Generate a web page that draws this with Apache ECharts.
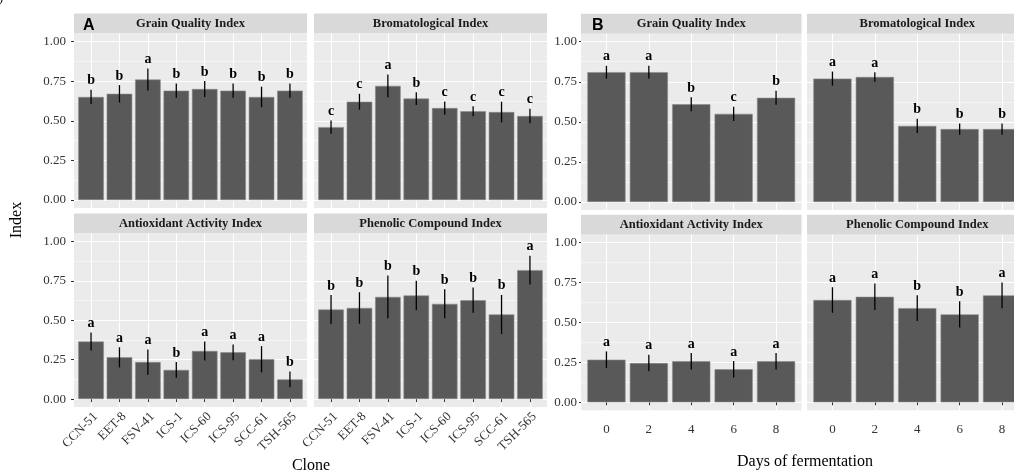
<!DOCTYPE html>
<html><head><meta charset="utf-8">
<script src="https://cdn.jsdelivr.net/npm/echarts@6/dist/echarts.min.js"></script>
<style>html,body{margin:0;padding:0;background:#fff}#c{width:1014px;height:471px}</style>
</head><body><div id="c"></div>
<script>
// ---------- data ----------
const clones = ['CCN-51','EET-8','FSV-41','ICS-1','ICS-60','ICS-95','SCC-61','TSH-565'];
const days = ['0','2','4','6','8'];
const yTicks = [0, 0.25, 0.5, 0.75, 1];
const yMinor = [0.125, 0.375, 0.625, 0.875];

const aGrainMean = [0.65, 0.67, 0.76, 0.69, 0.70, 0.69, 0.65, 0.69];
const aGrainErr  = [0.045, 0.055, 0.07, 0.045, 0.05, 0.045, 0.065, 0.045];
const aGrainLet  = ['b','b','a','b','b','b','b','b'];

const aBromMean = [0.46, 0.62, 0.72, 0.64, 0.58, 0.56, 0.555, 0.53];
const aBromErr  = [0.042, 0.05, 0.072, 0.04, 0.042, 0.032, 0.065, 0.045];
const aBromLet  = ['c','c','a','b','c','c','c','c'];

const aAntiMean = [0.365, 0.265, 0.235, 0.185, 0.305, 0.297, 0.253, 0.125];
const aAntiErr  = [0.057, 0.064, 0.08, 0.05, 0.06, 0.05, 0.083, 0.05];
const aAntiLet  = ['a','a','a','b','a','a','a','b'];

const aPhenMean = [0.568, 0.578, 0.648, 0.657, 0.604, 0.627, 0.537, 0.818];
const aPhenErr  = [0.092, 0.1, 0.135, 0.093, 0.092, 0.08, 0.124, 0.091];
const aPhenLet  = ['b','b','b','b','b','b','b','a'];

const bGrainMean = [0.81, 0.81, 0.61, 0.55, 0.65];
const bGrainErr  = [0.04, 0.04, 0.044, 0.044, 0.044];
const bGrainLet  = ['a','a','b','c','b'];

const bBromMean = [0.77, 0.78, 0.475, 0.455, 0.455];
const bBromErr  = [0.044, 0.03, 0.044, 0.035, 0.035];
const bBromLet  = ['a','a','b','b','b'];

const bAntiMean = [0.267, 0.246, 0.257, 0.207, 0.257];
const bAntiErr  = [0.052, 0.052, 0.052, 0.052, 0.052];
const bAntiLet  = ['a','a','a','a','a'];

const bPhenMean = [0.641, 0.661, 0.59, 0.551, 0.67];
const bPhenErr  = [0.08, 0.083, 0.08, 0.082, 0.081];
const bPhenLet  = ['a','a','b','b','a'];

// ---------- layout ----------
const SERIF = '"Liberation Serif","DejaVu Serif",serif';
const panels = [
  {title:'Grain Quality Index',        cats:clones, mean:aGrainMean, err:aGrainErr, let:aGrainLet, box:[74, 33.5, 233, 174.5], yLab:true,  xLab:false, yMargin:8},
  {title:'Bromatological Index',       cats:clones, mean:aBromMean,  err:aBromErr,  let:aBromLet,  box:[314, 33.5, 233, 174.5], yLab:false, xLab:false},
  {title:'Antioxidant Activity Index', cats:clones, mean:aAntiMean,  err:aAntiErr,  let:aAntiLet,  box:[74, 233.5, 233, 173.5], yLab:true,  xLab:true, rot:45, yMargin:8},
  {title:'Phenolic Compound Index',    cats:clones, mean:aPhenMean,  err:aPhenErr,  let:aPhenLet,  box:[314, 233.5, 233, 173.5], yLab:false, xLab:true, rot:45},
  {title:'Grain Quality Index',        cats:days,   mean:bGrainMean, err:bGrainErr, let:bGrainLet, box:[581, 33.7, 220.5, 176.3], yLab:true,  xLab:false, yMargin:4, tickLen:2},
  {title:'Bromatological Index',       cats:days,   mean:bBromMean,  err:bBromErr,  let:bBromLet,  box:[807, 33.7, 220.5, 176.3], yLab:false, xLab:false},
  {title:'Antioxidant Activity Index', cats:days,   mean:bAntiMean,  err:bAntiErr,  let:bAntiLet,  box:[581, 234.7, 220.5, 175.6], yLab:true,  xLab:true, rot:0, yMargin:4, tickLen:2},
  {title:'Phenolic Compound Index',    cats:days,   mean:bPhenMean,  err:bPhenErr,  let:bPhenLet,  box:[807, 234.7, 220.5, 175.6], yLab:false, xLab:true, rot:0}
];

const grid = [], xAxis = [], yAxis = [], series = [], graphic = [];
panels.forEach((p, i) => {
  const n = p.cats.length;
  const ticksX = p.cats.map((c, k) => k + 1);
  grid.push({left:p.box[0], top:p.box[1], width:p.box[2], height:p.box[3], show:true, backgroundColor:'#ebebeb',
    borderWidth:0, containLabel:false, outerBoundsMode:'none'});
  const xl = {show:p.xLab, customValues:ticksX, rotate:p.rot || 0, margin:p.rot ? 3 : 13,
      fontFamily:SERIF, fontSize:13, color:'#333',
      formatter: v => p.cats[Math.round(v) - 1]};
  if (p.rot) { xl.verticalAlign = 'top'; xl.align = 'right'; }
  xAxis.push({
    type:'value', gridIndex:i, min:0.4, max:n + 0.6,
    axisLine:{show:false},
    axisTick:{show:p.xLab, customValues:ticksX, length:3, lineStyle:{color:'#333', width:1}},
    axisLabel:xl,
    splitLine:{show:true, lineStyle:{color:'#ffffff', width:1}}
  });
  yAxis.push({
    type:'value', gridIndex:i, min:-0.05, max:1.05,
    axisLine:{show:false},
    axisTick:{show:p.yLab, customValues:yTicks, length:p.tickLen || 3, lineStyle:{color:'#333', width:1}},
    axisLabel:{show:p.yLab, customValues:yTicks, margin:p.yMargin || 8, fontFamily:SERIF, fontSize:13, color:'#333',
      formatter: v => v.toFixed(2)},
    splitLine:{show:true, lineStyle:{color:'#ffffff', width:1}}
  });
  yAxis.push({
    type:'value', gridIndex:i, min:-0.05, max:1.05, position:'left',
    axisLine:{show:false}, axisLabel:{show:false},
    axisTick:{show:false, customValues:yMinor},
    splitLine:{show:true, lineStyle:{color:'#ffffff', width:0.5}}
  });
  series.push({
    type:'bar', xAxisIndex:i, yAxisIndex:2*i, barWidth:'90%',
    itemStyle:{color:'#595959', borderColor:'#8c8c8c', borderWidth:0.6},
    data:p.mean.map((m, k) => [k + 1, m]), z:2
  });
  const lets = p.let;
  series.push({
    type:'custom', xAxisIndex:i, yAxisIndex:2*i, z:5,
    encode:{x:0, y:[1, 2]},
    data:p.mean.map((m, k) => [k + 1, m - p.err[k], m + p.err[k]]),
    renderItem:(params, api) => {
      const x = api.value(0);
      const a = api.coord([x, api.value(1)]);
      const b = api.coord([x, api.value(2)]);
      return {type:'group', children:[
        {type:'line', shape:{x1:a[0], y1:a[1], x2:b[0], y2:b[1]}, style:{stroke:'#000', lineWidth:1.3}},
        {type:'text', x:b[0], y:b[1] - 2, style:{text:lets[params.dataIndex], fill:'#000',
          fontFamily:SERIF, fontWeight:'bold', fontSize:14, align:'center', verticalAlign:'bottom'}}
      ]};
    }
  });
  // facet strip
  const sh = 20;
  graphic.push({type:'rect', left:p.box[0], top:p.box[1] - sh, shape:{width:p.box[2], height:sh}, style:{fill:'#d9d9d9'}, z:-1});
  graphic.push({type:'text', x:p.box[0] + p.box[2] / 2, y:p.box[1] - sh / 2,
    style:{text:p.title, fill:'#1a1a1a', fontFamily:SERIF, fontWeight:'bold', fontSize:12.5, align:'center', verticalAlign:'middle'}});
});

// tags and axis titles
graphic.push({type:'text', x:83, y:26, style:{text:'A', fill:'#000', fontFamily:'"Liberation Sans",Arial,sans-serif', fontWeight:'bold', fontSize:16, align:'left', verticalAlign:'middle'}, z:10});
graphic.push({type:'text', x:592, y:26, style:{text:'B', fill:'#000', fontFamily:'"Liberation Sans",Arial,sans-serif', fontWeight:'bold', fontSize:16, align:'left', verticalAlign:'middle'}, z:10});
graphic.push({type:'text', x:17, y:220, rotation:Math.PI / 2, style:{text:'Index', fill:'#000', fontFamily:SERIF, fontSize:16, align:'center', verticalAlign:'middle'}});
graphic.push({type:'text', x:311, y:466, style:{text:'Clone', fill:'#000', fontFamily:SERIF, fontSize:16, align:'center', verticalAlign:'middle'}});
graphic.push({type:'text', x:805, y:462, style:{text:'Days of fermentation', fill:'#000', fontFamily:SERIF, fontSize:16, align:'center', verticalAlign:'middle'}});
graphic.push({type:'text', x:-1, y:-7, style:{text:')', fill:'#000', fontFamily:SERIF, fontSize:12, align:'left', verticalAlign:'top'}});

const chart = echarts.init(document.getElementById('c'), null, {renderer:'canvas'});
chart.setOption({animation:false, backgroundColor:'#ffffff', grid, xAxis, yAxis, series, graphic});
</script></body></html>
